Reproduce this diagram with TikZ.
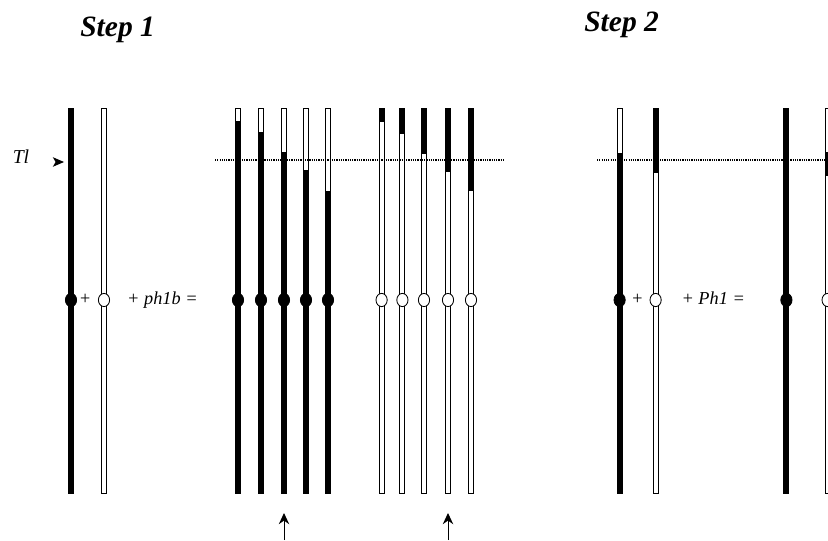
\documentclass[tikz,border=0pt]{standalone}
\usepackage{fontspec}
\setmainfont{Liberation Serif}
\usetikzlibrary{arrows.meta}
\begin{document}
\begin{tikzpicture}[font=\fontsize{13}{15}\selectfont\itshape,
  bar/.style={draw, line width=0.6pt, fill=white},
  title/.style={anchor=base, font=\fontsize{21}{25}\selectfont\bfseries\itshape}]
  \useasboundingbox (0,0) rectangle (20.7,13.5);
  \clip (0,0) rectangle (20.7,13.5);
  \node[title] (step1) at (2.94,12.575) {Step 1};
  \node[title] (step2) at (15.54,12.71) {Step 2};
  \foreach \x/\lo/\hi/\c in {1.775/1.175/10.8/black, 2.6/1.175/1.175/white,
      5.95/1.175/10.475/black, 6.525/1.175/10.2/black, 7.1/1.175/9.7/black, 7.65/1.175/9.25/black, 8.2/1.175/8.725/black,
      9.54/10.45/10.8/white, 10.06/10.15/10.8/white, 10.6/9.65/10.8/white, 11.2/9.2/10.8/white, 11.775/8.725/10.8/white,
      15.49/1.175/9.675/black, 16.39/9.175/10.8/white, 19.66/1.175/10.8/black, 20.69/9.1/9.7/white} {
    \draw[bar] (\x-0.0625,1.175) rectangle (\x+0.0625,10.8);
    \fill (\x-0.0625,\lo) rectangle (\x+0.0625,\hi);
    \draw[fill=\c, line width=0.6pt] (\x,6) ellipse[x radius=0.14, y radius=0.165];
  }
  \draw[line width=0.8pt, dash pattern=on 0.8pt off 0.8pt] (5.375,9.5) -- (12.6,9.5);
  \draw[line width=0.8pt, dash pattern=on 0.8pt off 0.8pt] (14.925,9.5) -- (20.7,9.5);
  \node[anchor=base, font=\fontsize{14}{16}\selectfont\itshape] (tl) at (0.525,9.42) {Tl};
  \fill (1.6,9.45) -- (1.32,9.57) -- (1.39,9.45) -- (1.32,9.33) -- cycle;
  \node[anchor=base] (plusA) at (2.125,5.88) {+};
  \node[anchor=base] (ph1b) at (4.06,5.88) {+ ph1b =};
  \node[anchor=base] (plusB) at (15.93,5.88) {+};
  \node[anchor=base] (ph1) at (17.83,5.88) {+ Ph1 =};
  \foreach \x in {7.1, 11.2}
    \draw[line width=0.7pt, -{Stealth[length=0.28cm, width=0.26cm]}] (\x,0) -- (\x,0.675);
\end{tikzpicture}
\end{document}
